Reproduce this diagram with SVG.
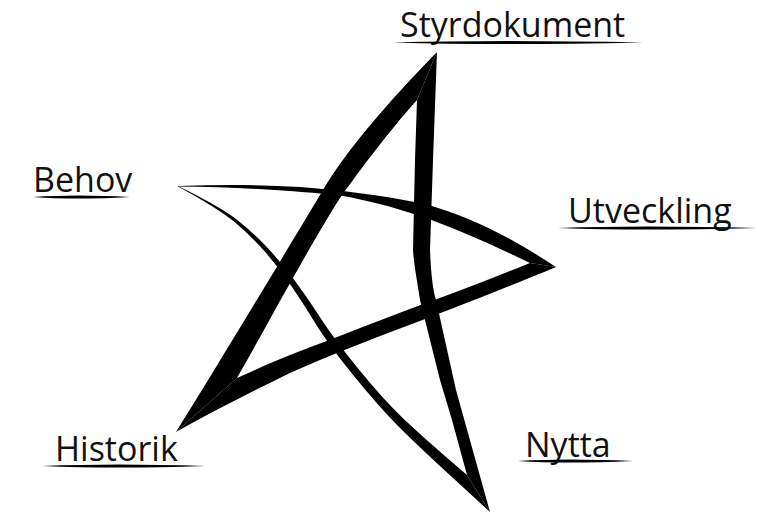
<svg xmlns="http://www.w3.org/2000/svg" width="761" height="513" viewBox="0 0 761 513">
<style>
.lbl{font-family:"Open Sans","Noto Sans","Liberation Sans",sans-serif;font-size:34px;fill:#111}
.ul{fill:#000}
.st{fill:#000;stroke:none}
</style>
<rect width="761" height="513" fill="#fff"/>
<g id="connectors">
<path id="strokeE" class="st" d="M178,186 C220,184.5 260,184.5 300,187 C340,190 380,195 420,203 C470,215 515,240 556,267 L530,263 C495,246 460,230 420,216 C390,206 365,200 343,196 C300,191 240,187 178,186.5 Z"/>
<path id="strokeB" class="st" d="M556,267 C515,284 470,302 433,316 C380,336 330,355 290,373 C255,390 215,410 176,432 L237,378 C255,370 270,363 290,355 C340,336 390,316 437,299 C470,287 500,275 530,263 Z"/>
<path id="strokeA" class="st" d="M176,432 C230,345 290,245 323,190 C345,152 390,100 437,52 L417,100 C390,130 360,170 340,198 C310,245 270,320 237,378 Z"/>
<path id="strokeC" class="st" d="M437,52 L433,160 L430,250 C431,275 433,290 436,300 L456,390 L490,512 L467,475 L452,420 L440,380 L420,300 C417,280 414,265 413,250 L415,160 L417,100 Z"/>
<path id="strokeD" class="st" d="M178,186 Q220.7,206.9 237.6,220.2 Q254.4,233.5 268.2,248.5 Q282,263.4 294.9,280.8 Q307.7,298.2 320.5,317.9 Q333.2,337.6 358.1,368.5 Q383,399.3 403.2,418.4 Q423.4,437.4 445.2,456.2 L467,475 L490,512 L453.3,478.3 Q416.6,444.6 396.8,424.7 Q377,404.7 351.9,373.6 Q326.8,342.4 314.6,322.1 Q302.3,301.8 290.2,284.2 Q278,266.6 264.8,251.6 Q251.6,236.5 235.5,222.8 Q219.3,209.1 178,186.5 Z"/>
</g>
<g id="styrdokument">
<text class="lbl" x="400" y="37">Styrdokument</text>
<path class="ul" d="M393,42.5 Q500,39.5 643,42.5 Q500,45.5 393,42.5 Z"/>
</g>
<g id="behov">
<text class="lbl" x="33" y="192">Behov</text>
<path class="ul" d="M33,197 Q75,194 130,197 Q75,200 33,197 Z"/>
</g>
<g id="utveckling">
<text class="lbl" x="568" y="223">Utveckling</text>
<path class="ul" d="M558,228 Q640,225 757,228 Q640,231 558,228 Z"/>
</g>
<g id="historik">
<text class="lbl" x="55" y="461">Historik</text>
<path class="ul" d="M42,466 Q115,463 205,466 Q115,469 42,466 Z"/>
</g>
<g id="nytta">
<text class="lbl" x="525" y="457">Nytta</text>
<path class="ul" d="M518,461 Q565,458 633,461 Q565,464 518,461 Z"/>
</g>
</svg>
